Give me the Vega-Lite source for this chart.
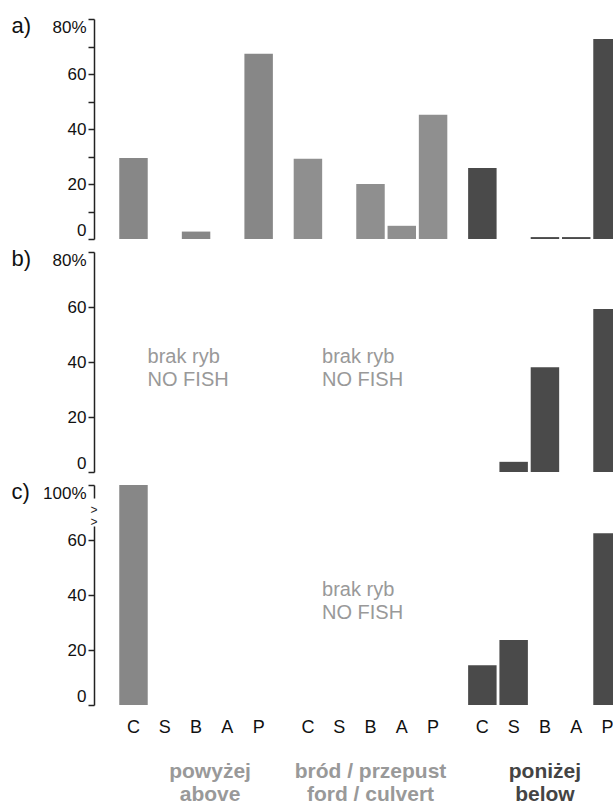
{
  "$schema": "https://vega.github.io/schema/vega-lite/v6.json",
  "padding": {"left": 11, "top": 14, "right": 0, "bottom": 0},
  "background": "white",
  "config": {
    "view": {"stroke": null},
    "font": "Liberation Sans",
    "axis": {
      "domainColor": "#222", "domainWidth": 1.5, "tickColor": "#222", "tickWidth": 1.5,
      "labelFont": "Liberation Sans", "labelFontSize": 17, "labelColor": "#111",
      "titleFont": "Liberation Sans", "titleColor": "#111", "grid": false
    }
  },
  "datasets": {
    "bars": [
      {"panel": "a", "group": "powyżej", "cat": "C", "value": 29.5},
      {"panel": "a", "group": "powyżej", "cat": "B", "value": 2.7},
      {"panel": "a", "group": "powyżej", "cat": "P", "value": 67.4},
      {"panel": "a", "group": "bród / przepust", "cat": "C", "value": 29.2},
      {"panel": "a", "group": "bród / przepust", "cat": "B", "value": 20},
      {"panel": "a", "group": "bród / przepust", "cat": "A", "value": 4.8},
      {"panel": "a", "group": "bród / przepust", "cat": "P", "value": 45.2},
      {"panel": "a", "group": "poniżej", "cat": "C", "value": 25.8},
      {"panel": "a", "group": "poniżej", "cat": "B", "value": 0.7},
      {"panel": "a", "group": "poniżej", "cat": "A", "value": 0.7},
      {"panel": "a", "group": "poniżej", "cat": "P", "value": 72.7},
      {"panel": "b", "group": "poniżej", "cat": "S", "value": 3.7},
      {"panel": "b", "group": "poniżej", "cat": "B", "value": 38.1},
      {"panel": "b", "group": "poniżej", "cat": "P", "value": 59.3},
      {"panel": "c", "group": "powyżej", "cat": "C", "value": 100},
      {"panel": "c", "group": "poniżej", "cat": "C", "value": 14.5},
      {"panel": "c", "group": "poniżej", "cat": "S", "value": 23.6},
      {"panel": "c", "group": "poniżej", "cat": "P", "value": 62.5}
    ],
    "notes": [
      {"panel": "b", "group": "powyżej", "note": "brak ryb\nNO FISH"},
      {"panel": "b", "group": "bród / przepust", "note": "brak ryb\nNO FISH"},
      {"panel": "c", "group": "bród / przepust", "note": "brak ryb\nNO FISH"}
    ],
    "axisbreak": [
      {"panel": "c", "glyph": ">\n>"}
    ],
    "cats": [
      {"group": "powyżej", "cat": "C"}, {"group": "powyżej", "cat": "S"}, {"group": "powyżej", "cat": "B"}, {"group": "powyżej", "cat": "A"}, {"group": "powyżej", "cat": "P"},
      {"group": "bród / przepust", "cat": "C"}, {"group": "bród / przepust", "cat": "S"}, {"group": "bród / przepust", "cat": "B"}, {"group": "bród / przepust", "cat": "A"}, {"group": "bród / przepust", "cat": "P"},
      {"group": "poniżej", "cat": "C"}, {"group": "poniżej", "cat": "S"}, {"group": "poniżej", "cat": "B"}, {"group": "poniżej", "cat": "A"}, {"group": "poniżej", "cat": "P"}
    ]
  },
  "vconcat": [
    {
      "width": 519, "height": 220,
      "layer": [
        {
          "data": {"name": "bars"},
          "transform": [{"filter": "datum.panel == 'a'"}],
          "mark": {"type": "bar", "clip": true},
          "encoding": {
            "x": {"field": "group", "type": "nominal", "scale": {"domain": ["powyżej", "bród / przepust", "poniżej"], "range": [0, 553], "paddingInner": 0.1032, "paddingOuter": 0.1367}, "axis": null},
            "xOffset": {"field": "cat", "type": "nominal", "scale": {"domain": ["C", "S", "B", "A", "P"], "paddingInner": 0.09, "paddingOuter": 0.045}},
            "y": {"field": "value", "type": "quantitative", "scale": {"domain": [0, 80], "nice": false, "clamp": true},
              "axis": {"values": [0, 10, 20, 30, 40, 50, 60, 70, 80], "labelExpr": "datum.value == 80 ? '80%' : (datum.value % 20 == 0 ? datum.label : '')", "labelFlush": true, "labelOverlap": false, "tickSize": 6, "labelPadding": 2, "labelFontSize": 17,
                "title": "a)", "titleAngle": 0, "titleX": -83, "titleY": 6, "titleAlign": "left", "titleBaseline": "middle", "titleFontSize": 22, "titleFontWeight": "normal"}},
            "color": {"field": "group", "type": "nominal", "scale": {"domain": ["powyżej", "bród / przepust", "poniżej"], "range": ["#878787", "#8f8f8f", "#4a4a4a"]}, "legend": null}
          }
        }
      ]
    },
    {
      "width": 519, "height": 220,
      "layer": [
        {
          "data": {"name": "bars"},
          "transform": [{"filter": "datum.panel == 'b'"}],
          "mark": {"type": "bar", "clip": true},
          "encoding": {
            "x": {"field": "group", "type": "nominal", "scale": {"domain": ["powyżej", "bród / przepust", "poniżej"], "range": [0, 553], "paddingInner": 0.1032, "paddingOuter": 0.1367}, "axis": null},
            "xOffset": {"field": "cat", "type": "nominal", "scale": {"domain": ["C", "S", "B", "A", "P"], "paddingInner": 0.09, "paddingOuter": 0.045}},
            "y": {"field": "value", "type": "quantitative", "scale": {"domain": [0, 80], "nice": false, "clamp": true},
              "axis": {"values": [0, 10, 20, 30, 40, 50, 60, 70, 80], "labelExpr": "datum.value == 80 ? '80%' : (datum.value % 20 == 0 ? datum.label : '')", "labelFlush": true, "labelOverlap": false, "tickSize": 6, "labelPadding": 2, "labelFontSize": 17,
                "title": "b)", "titleAngle": 0, "titleX": -83, "titleY": 6, "titleAlign": "left", "titleBaseline": "middle", "titleFontSize": 22, "titleFontWeight": "normal"}},
            "color": {"field": "group", "type": "nominal", "scale": {"domain": ["powyżej", "bród / przepust", "poniżej"], "range": ["#878787", "#8f8f8f", "#4a4a4a"]}, "legend": null}
          }
        },
        {
          "data": {"name": "notes"},
          "transform": [{"filter": "datum.panel == 'b'"}],
          "mark": {"type": "text", "align": "left", "baseline": "alphabetic", "fontSize": 20, "lineHeight": 23, "lineBreak": "\n", "color": "#999999"},
          "encoding": {
            "x": {"field": "group", "type": "nominal", "bandPosition": 0.19},
            "y": {"datum": 39.5, "type": "quantitative"},
            "text": {"field": "note"}
          }
        }
      ]
    },
    {
      "width": 519, "height": 220,
      "layer": [
        {
          "data": {"name": "bars"},
          "transform": [{"filter": "datum.panel == 'c'"}],
          "mark": {"type": "bar", "clip": true},
          "encoding": {
            "x": {"field": "group", "type": "nominal", "scale": {"domain": ["powyżej", "bród / przepust", "poniżej"], "range": [0, 553], "paddingInner": 0.1032, "paddingOuter": 0.1367}, "axis": null},
            "xOffset": {"field": "cat", "type": "nominal", "scale": {"domain": ["C", "S", "B", "A", "P"], "paddingInner": 0.09, "paddingOuter": 0.045}},
            "y": {"field": "value", "type": "quantitative", "scale": {"domain": [0, 80], "nice": false, "clamp": true},
              "axis": {"values": [0, 10, 20, 30, 40, 50, 60, 71, 80], "labelExpr": "datum.value == 80 ? '100%' : (datum.value % 20 == 0 ? datum.label : '')", "labelFlush": true, "labelOverlap": false, "tickSize": 6, "labelPadding": 2,
                "labelFontSize": {"condition": {"test": "datum.value == 71", "value": 15}, "value": 17},
                "tickOpacity": {"condition": {"test": "datum.value == 71", "value": 0}, "value": 1},
                "domainDash": [179, 28, 100],
                "title": "c)", "titleAngle": 0, "titleX": -83, "titleY": 6, "titleAlign": "left", "titleBaseline": "middle", "titleFontSize": 22, "titleFontWeight": "normal"}},
            "color": {"field": "group", "type": "nominal", "scale": {"domain": ["powyżej", "bród / przepust", "poniżej"], "range": ["#878787", "#8f8f8f", "#4a4a4a"]}, "legend": null}
          }
        },
        {
          "data": {"name": "notes"},
          "transform": [{"filter": "datum.panel == 'c'"}],
          "mark": {"type": "text", "align": "left", "baseline": "alphabetic", "fontSize": 20, "lineHeight": 23, "lineBreak": "\n", "color": "#999999"},
          "encoding": {
            "x": {"field": "group", "type": "nominal", "bandPosition": 0.19},
            "y": {"datum": 39.5, "type": "quantitative"},
            "text": {"field": "note"}
          }
        },
        {
          "data": {"name": "axisbreak"},
          "mark": {"type": "text", "align": "center", "baseline": "middle", "fontSize": 12, "lineHeight": 12, "lineBreak": "\n", "color": "#222222"},
          "encoding": {
            "x": {"datum": "powyżej", "type": "nominal", "bandPosition": -0.152},
            "y": {"datum": 71, "type": "quantitative"},
            "text": {"field": "glyph"}
          }
        }
      ]
    },
    {
      "width": 519, "height": 20,
      "data": {"name": "cats"},
      "mark": {"type": "text", "fontSize": 18, "color": "#111", "baseline": "middle"},
      "encoding": {
        "x": {"field": "group", "type": "nominal", "scale": {"domain": ["powyżej", "bród / przepust", "poniżej"], "range": [0, 553], "paddingInner": 0.1032, "paddingOuter": 0.1367},
          "axis": {"orient": "bottom", "title": null, "domain": false, "ticks": false, "labelAngle": 0, "labelPadding": 22, "labelBaseline": "top",
            "labelExpr": "datum.value == 'powyżej' ? ['powyżej', 'above'] : (datum.value == 'poniżej' ? ['poniżej', 'below'] : ['bród / przepust', 'ford / culvert'])",
            "labelFontSize": 21, "labelFontWeight": "bold", "labelLineHeight": 23,
            "labelColor": {"condition": {"test": "datum.value == 'poniżej'", "value": "#444444"}, "value": "#999999"},
            "labelOffset": {"condition": {"test": "datum.value == 'powyżej'", "value": 14}, "value": 0}}},
        "xOffset": {"field": "cat", "type": "nominal", "scale": {"domain": ["C", "S", "B", "A", "P"], "paddingInner": 0.09, "paddingOuter": 0.045}},
        "text": {"field": "cat"}
      }
    }
  ],
  "spacing": 13,
  "bounds": "flush",
  "resolve": {"scale": {"x": "independent", "y": "independent", "color": "independent"}}
}
